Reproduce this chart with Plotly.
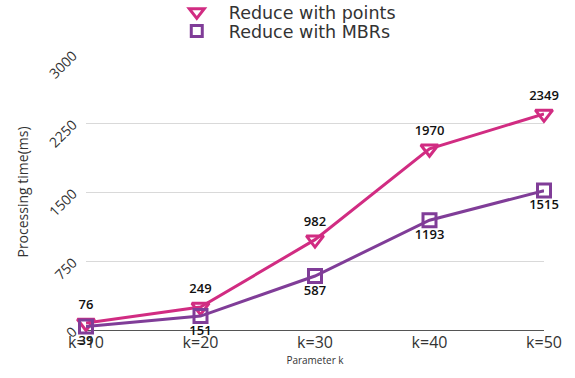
import plotly.graph_objects as go

categories = ["k=10", "k=20", "k=30", "k=40", "k=50"]
points_ms = [76, 249, 982, 1970, 2349]
mbrs_ms = [39, 151, 587, 1193, 1515]
y_ticks = [0, 750, 1500, 2250, 3000]

FONT = "Open Sans, Noto Sans, sans-serif"
PINK = "#d12c82"
PURPLE = "#803d98"

fig = go.Figure()
fig.add_trace(go.Scatter(
    x=categories, y=points_ms, name="Reduce with points", showlegend=False,
    mode="lines+markers+text", text=[str(v) for v in points_ms],
    textposition="top center", cliponaxis=False,
    textfont=dict(size=13, color="#111", family=FONT, weight=600),
    line=dict(color=PINK, width=3),
    marker=dict(symbol="triangle-down-open", size=15, color=PINK, line=dict(width=3, color=PINK)),
))
fig.add_trace(go.Scatter(
    x=categories, y=mbrs_ms, name="Reduce with MBRs", showlegend=False,
    mode="lines+markers+text", text=[str(v) for v in mbrs_ms],
    textposition="bottom center", cliponaxis=False,
    textfont=dict(size=13, color="#111", family=FONT, weight=600),
    line=dict(color=PURPLE, width=3),
    marker=dict(symbol="square-open", size=13, color=PURPLE, line=dict(width=3, color=PURPLE)),
))
# legend entries (marker only, as in the reference)
fig.add_trace(go.Scatter(
    x=[None], y=[None], name="Reduce with points", mode="markers", legend="legend",
    marker=dict(symbol="triangle-down-open", size=13, color=PINK, line=dict(width=3, color=PINK)),
))
fig.add_trace(go.Scatter(
    x=[None], y=[None], name="Reduce with MBRs", mode="markers", legend="legend2",
    marker=dict(symbol="square-open", size=11, color=PURPLE, line=dict(width=3, color=PURPLE)),
))

leg_common = dict(orientation="v", x=0.172, xanchor="left", yanchor="middle",
                  font=dict(size=17.5, color="#333", family="DejaVu Sans, sans-serif"),
                  itemwidth=54, bgcolor="rgba(0,0,0,0)", borderwidth=0)
fig.update_layout(
    width=575, height=378,
    margin=dict(l=86, r=31, t=54, b=48, autoexpand=False),
    paper_bgcolor="white", plot_bgcolor="white",
    font=dict(family=FONT, color="#333"),
    legend=dict(leg_common, y=1 + (54 - 12) / 276),
    legend2=dict(leg_common, y=1 + (54 - 31) / 276),
    showlegend=True,
)
fig.update_xaxes(
    type="category", range=[0, 4], showgrid=False, showline=False, zeroline=False,
    ticks="", tickfont=dict(size=16, color="#333"), ticklabelstandoff=1,
    title=dict(text="Parameter k", font=dict(size=10, color="#333"), standoff=2),
)
fig.update_yaxes(
    range=[0, 3000], tickvals=y_ticks, ticktext=[str(v) for v in y_ticks],
    tickangle=-45, tickfont=dict(size=14, color="#333"), ticklabelstandoff=12,
    showgrid=True, gridcolor="#d9d9d9", gridwidth=1,
    zeroline=True, zerolinecolor="#555", zerolinewidth=1,
    showline=False, ticks="",
    title=dict(text="Processing time(ms)", font=dict(size=14, color="#333"), standoff=12),
)

fig.write_html("out.html")
